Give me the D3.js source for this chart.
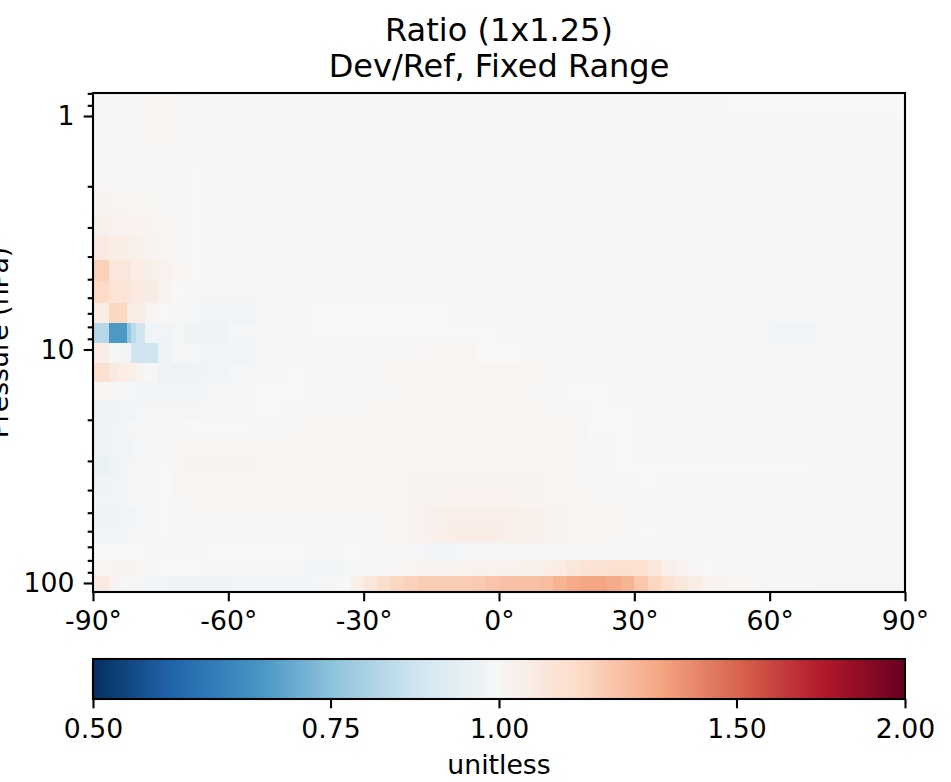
<!DOCTYPE html>
<html><head><meta charset="utf-8">
<script src="https://cdn.jsdelivr.net/npm/d3@7"></script>
<style>html,body{margin:0;padding:0;background:#fff}svg{display:block}text{font-family:"DejaVu Sans";fill:#000}</style>
</head><body><div id="chart"></div>
<script>
const titleLines = ["Ratio (1x1.25)", "Dev/Ref, Fixed Range"];
const yLabel = "Pressure (hPa)";
const barLabel = "unitless";
const latTicks = [-90,-60,-30,0,30,60,90];
const pressureMajor = [1,10,100];
const pressureMinor = [0.8,0.9,2,3,4,5,6,7,8,9,20,30,40,50,60,70,80,90];
const barTicks = [0.5,0.75,1,1.5,2];
const rampStops = ["#053061","#2166ac","#4393c3","#92c5de","#d1e5f0","#f7f7f7","#fddbc7","#f4a582","#d6604d","#b2182b","#67001f"];
const latEdges = [-90,-86.5,-84.5,-82.5,-81.5,-80.5,-78.5,-75.5,-72.5,-69.5,-66,-60,-54,-48,-42,-36,-30,-27,-24,-20,-15,-10,-5,0,5,10,15,20,25,30,35,40,45,50,55,60,70,90];
const surfaceLatEdges = [-90,-86.5,-84.5,-82.5,-81.5,-80.5,-78.5,-75.5,-72.5,-69.5,-66,-60,-54,-48,-42,-36,-33,-30,-27,-24,-21,-18,-15,-12,-9,-6,-3,0,3,6,9,12,15,18,21,24,27,30,33,36,39,42,45,48,51,54,57,60,70,90];
const pressureEdges = [0.797,1.02,1.28,1.65,2.1,2.65,3.29,4.14,5.08,6.31,7.7,9.39,11.4,13.8,16.6,20.1,24,28.8,34.2,40.7,48.2,56.9,67.3,79.9,93.5,109.3];
const ratio = [
[1.005,1.005,1.005,1.005,1.005,1.005,1.012,1.012,1.008,1.008,.995,.995,.995,.995,.995,.995,.995,.995,.995,.995,.995,.995,.995,.995,.995,.995,.995,.995,.995,.995,.995,.995,.995,1,1,1,1],
[1.005,1.005,1.005,1.005,1.005,1.005,1.012,1.012,1.006,1.006,.995,.995,.995,.995,.995,.995,.995,.995,.995,.995,.995,.995,.995,.995,.995,.995,.995,.995,.995,.995,.995,.995,.995,.995,.995,.995,.995],
[1.005,1.005,1.005,1.005,1.005,1.005,1.006,1.008,1.004,1.004,.995,.995,.995,.995,.995,.995,.995,.995,.995,.995,.995,.995,.985,.985,.985,.985,.985,.985,.985,.995,.995,.995,.995,.995,.995,.995,.995],
[1.005,1.005,1.005,1.005,1.005,1.005,1.006,1.008,1.006,1,.995,.995,.995,.995,.995,.995,.995,.995,.995,.995,.985,.985,.985,.985,.985,.985,.985,.985,.985,.985,.985,.995,.995,.995,.995,.995,.995],
[1.018,1.015,1.015,1.012,1.012,1.012,1.008,1.008,1.004,1,.995,.995,.995,.995,.995,.995,.995,.995,.985,.985,.985,.985,.985,.985,.985,.985,.985,.985,.985,.985,.985,.985,.995,.995,.995,.995,.995],
[1.035,1.03,1.03,1.028,1.028,1.022,1.015,1.012,1.006,1.002,.995,.995,.995,.995,.995,.985,.985,.985,.985,.985,.985,.985,.985,.985,.985,.985,.985,.985,.985,.985,.985,.985,.985,.985,.985,.985,.985],
[1.07,1.05,1.05,1.04,1.04,1.035,1.02,1.012,1.006,1,.995,.985,.985,.995,.995,.995,.995,.995,.995,.995,.985,.985,.985,.985,.985,.985,.985,.985,.985,.985,.985,.985,.985,.985,.985,.985,.985],
[1.18,1.09,1.08,1.08,1.05,1.05,1.04,1.03,1.012,1,.985,.985,.985,.995,.995,.995,.995,.995,.995,.995,.995,.995,.985,.985,.985,.985,.985,.985,.985,.985,.985,.985,.985,.985,.985,.985,.985],
[1.15,1.1,1.1,1.09,1.07,1.07,1.055,1.02,1,.995,.985,.985,.985,.995,.995,.995,.995,.995,.995,.995,.995,.995,.995,.985,.985,.985,.985,.985,.985,.985,.985,.985,.985,.985,.985,.985,.985],
[1.05,1.16,1.16,1.05,1.05,1.05,1.01,1,.995,.985,.975,.975,.985,.995,1,1,1,1,1,1,1,.995,.995,.985,.985,.985,.985,.985,.985,.985,.985,.985,.985,.985,.985,.985,.985],
[.82,.67,.67,.77,.83,.87,.98,.98,.99,.97,.97,.985,.99,.995,1,1,1,1,1,1,1,1,1,.995,.985,.985,.985,.985,.985,.985,.985,.985,.985,.985,.985,.98,.985],
[1.05,.995,.99,.98,.87,.87,.87,.96,.985,.985,.975,.975,.99,.995,1.005,1.005,1.005,1.005,1.005,1.005,1.015,1.015,1,1,.995,.995,.985,.985,.985,.985,.985,.985,.985,.985,.985,.985,.985],
[1.12,1.07,1.05,1.04,1.04,1.02,.995,.96,.96,.97,.975,.985,.995,.998,1.005,1.005,1.005,1.005,1.015,1.015,1.015,1.015,1.015,1.015,1.015,1.005,.995,.995,.995,.985,.985,.985,.985,.985,.985,.985,.985],
[1.015,.985,.985,.985,.985,.98,.98,.98,.975,.98,.985,.985,.998,1,1.005,1.008,1.008,1.01,1.01,1.012,1.012,1.012,1.012,1.012,1.01,1.005,1,1,.995,.995,.995,.985,.985,.985,.985,.985,.985],
[.97,.97,.975,.98,.98,.985,.985,.985,.99,.99,.995,.995,1,1.006,1.01,1.01,1.01,1.012,1.012,1.012,1.012,1.012,1.015,1.012,1.012,1.01,1.005,1,.998,.995,.995,.995,.985,.985,.985,.985,.985],
[.97,.975,.975,.985,.985,.985,.985,.99,.995,.998,1,1,1.004,1.008,1.012,1.012,1.012,1.012,1.012,1.012,1.012,1.012,1.012,1.015,1.012,1.012,1.008,1,.998,.995,.995,.995,.995,.985,.985,.985,.985],
[.97,.975,.98,.98,.985,.985,.99,.995,1.005,1.012,1.012,1.012,1.015,1.015,1.015,1.015,1.015,1.015,1.015,1.015,1.015,1.015,1.015,1.012,1.012,1.012,1.01,1.005,1,.996,.996,.996,.996,.996,.99,.99,.99],
[.955,.96,.975,.985,.99,.99,.995,1,1.012,1.018,1.018,1.018,1.015,1.012,1.012,1.012,1.012,1.012,1.012,1.012,1.012,1.012,1.012,1.012,1.012,1.012,1.01,1.005,1,.997,.997,.997,.997,.997,.997,1,1.004],
[.97,.975,.98,.985,.985,.985,.99,1,1.01,1.012,1.012,1.012,1.012,1.012,1.012,1.012,1.012,1.012,1.012,1.02,1.02,1.02,1.02,1.02,1.02,1.012,1.01,1.01,1.004,.997,.99,.99,.99,.99,.99,.995,.995],
[.975,.975,.98,.985,.985,.985,.995,1,1.006,1.01,1.012,1.012,1.012,1.012,1.012,1.012,1.012,1.012,1.015,1.025,1.025,1.03,1.03,1.025,1.02,1.015,1.012,1.01,1.005,.995,.99,.985,.985,.985,.985,.985,.985],
[.97,.97,.975,.98,.98,.985,.99,1,1.005,1.008,1.01,1.01,1.01,1.01,1.01,1.01,1.01,1.01,1.015,1.03,1.04,1.045,1.045,1.04,1.035,1.02,1.015,1.012,1.01,.995,.99,.985,.985,.985,.985,.985,.985],
[.98,.98,.98,.985,.985,.99,.995,1,1.004,1.006,1.008,1.008,1.008,1.008,1.008,1.008,1.008,1.008,1.015,1.03,1.045,1.05,1.05,1.045,1.035,1.025,1.015,1.012,1.01,.998,.99,.985,.985,.985,.985,.985,.985],
[1,1,1,1,1.002,1.002,1.004,1.005,1.005,1.004,1,1,1,1.002,1.004,1,.995,.99,.99,.985,.98,.985,.985,.985,.985,.985,.985,.985,.985,.99,.99,.99,.985,.985,.985,.985,.985],
[1.01,1.015,1.02,1.02,1.015,1.012,1.004,.997,.997,.997,.996,.99,.99,.985,.98,.985,.985,.99,1,1.008,1.012,1.018,1.02,1.022,1.025,1.028,1.03,1.03,1.032,1.035,1.045,1.06,1.08,1.1,1.11,1.115,1.12,1.11,1.08,1.045,1.02,1.008,1,.995,.99,.985,.985,.985,.985],
[1.07,1.02,.995,.99,.985,.985,.98,.975,.97,.97,.97,.975,.975,.975,.985,1,1.04,1.09,1.13,1.16,1.18,1.19,1.19,1.19,1.19,1.2,1.22,1.23,1.23,1.23,1.24,1.27,1.3,1.32,1.32,1.3,1.27,1.21,1.16,1.12,1.08,1.05,1.03,1.02,1.012,1.005,.99,.992,.985]
];

const W = 951, H = 782;
const plot = {l: 93, r: 905, t: 93, b: 592};
const bar = {t: 659, b: 699};
const svg = d3.select("#chart").append("svg").attr("width", W).attr("height", H);

const x = d3.scaleLinear().domain([-90, 90]).range([plot.l, plot.r]);
const y = d3.scaleLog().domain([pressureEdges[0], pressureEdges[pressureEdges.length-1]]).range([plot.t, plot.b]);
const cb = d3.scaleLog().domain([0.5, 2]).range([plot.l, plot.r]);
const ramp = d3.scaleLinear().domain(d3.range(rampStops.length).map(i => i/(rampStops.length-1))).range(rampStops).clamp(true);
const unit = d3.scaleLog().domain([0.5, 2]).range([0, 1]);
const color = v => ramp(unit(v));

const cells = ratio.flatMap((row, j) => {
  const edges = row.length === latEdges.length - 1 ? latEdges : surfaceLatEdges;
  return row.map((v, i) => ({a: edges[i], b: edges[i+1], j, v}));
});
svg.append("g").selectAll("rect").data(cells).join("rect")
  .attr("x", d => x(d.a)).attr("y", d => y(pressureEdges[d.j]))
  .attr("width", d => x(d.b) - x(d.a))
  .attr("height", d => y(pressureEdges[d.j+1]) - y(pressureEdges[d.j]))
  .attr("fill", d => color(d.v)).attr("shape-rendering", "crispEdges");

const LW = 2.1, FS = 26.7, MAJ = 9.3, MIN = 5.3;
svg.append("g").attr("transform", `translate(0,${plot.b})`)
  .call(d3.axisBottom(x).tickValues(latTicks).tickFormat(d => d + "°").tickSize(MAJ).tickPadding(9.7));
svg.append("g").attr("transform", `translate(${plot.l},0)`)
  .call(d3.axisLeft(y).tickValues(pressureMinor).tickFormat("").tickSize(MIN));
svg.append("g").attr("transform", `translate(${plot.l},0)`)
  .call(d3.axisLeft(y).tickValues(pressureMajor).tickFormat(d3.format("d")).tickSize(MAJ).tickPadding(9.3));

const steps = d3.range(256).map(i => 0.5 * Math.pow(4, i/256));
svg.append("g").selectAll("rect").data(steps).join("rect")
  .attr("x", d => cb(d)).attr("y", bar.t)
  .attr("width", d => cb(d * Math.pow(4, 1/256)) - cb(d) + 1)
  .attr("height", bar.b - bar.t)
  .attr("shape-rendering", "crispEdges")
  .attr("fill", d => ramp(unit(d) + 0.5/256));
svg.append("g").attr("transform", `translate(0,${bar.b})`)
  .call(d3.axisBottom(cb).tickValues(barTicks).tickFormat(d3.format(".2f")).tickSize(MAJ).tickPadding(10.7));

svg.selectAll(".domain").attr("stroke", "none");
svg.selectAll(".tick line").attr("stroke", "#000").attr("stroke-width", LW);
svg.selectAll(".tick text").attr("font-family", "DejaVu Sans").attr("font-size", FS).attr("fill", "#000");

svg.append("rect").attr("x", plot.l).attr("y", plot.t).attr("width", plot.r-plot.l).attr("height", plot.b-plot.t)
  .attr("fill", "none").attr("stroke", "#000").attr("stroke-width", LW);
svg.append("rect").attr("x", plot.l).attr("y", bar.t).attr("width", plot.r-plot.l).attr("height", bar.b-bar.t)
  .attr("fill", "none").attr("stroke", "#000").attr("stroke-width", LW);

svg.selectAll(".title").data(titleLines).join("text").attr("class", "title")
  .attr("x", (plot.l+plot.r)/2).attr("y", (d, i) => 41 + i*36)
  .attr("text-anchor", "middle").attr("font-size", 32).text(d => d);
svg.append("text").attr("transform", `translate(8,${(plot.t+plot.b)/2}) rotate(-90)`)
  .attr("text-anchor", "middle").attr("font-size", FS).text(yLabel);
svg.append("text").attr("x", (plot.l+plot.r)/2).attr("y", 774)
  .attr("text-anchor", "middle").attr("font-size", FS).text(barLabel);
</script></body></html>
